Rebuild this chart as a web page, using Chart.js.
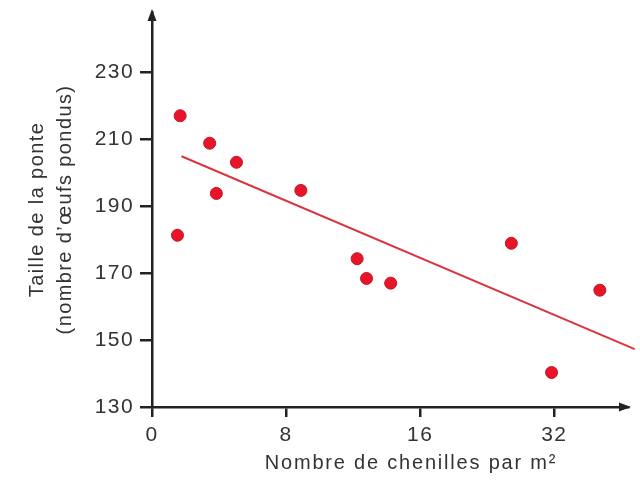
<!DOCTYPE html>
<html>
<head>
<meta charset="utf-8">
<script src="https://cdn.jsdelivr.net/npm/chart.js@4"></script>
<style>
  html, body { margin: 0; padding: 0; background: #fff; }
</style>
</head>
<body>
<canvas id="chart" width="640" height="485"></canvas>
<script>
// x positions are in tick steps: 0 -> "0", 1 -> "8", 2 -> "16", 3 -> "32"
const xTickPos = [0, 1, 2, 3];
const xTickLabels = ["0", "8", "16", "32"];
const yTickValues = [130, 150, 170, 190, 210, 230];

// caterpillars per m2 (axis steps) and clutch size
const chenilles = [0.19, 0.21, 0.43, 0.48, 0.63, 1.11, 1.53, 1.60, 1.78, 2.68, 2.98, 3.34];
const ponte = [181.3, 217.0, 208.8, 193.8, 203.1, 194.7, 174.3, 168.4, 167.0, 178.9, 140.3, 164.9];

// regression line end points
const trendX = [0.22, 3.60];
const trendY = [204.9, 147.3];

const textColor = "#333";
const axisColor = "#222";
const fontFamily = '"Liberation Sans", Arial, sans-serif';

// arrow heads on both axes + x axis title
const axisExtras = {
  id: "axisExtras",
  beforeDraw(chart) {
    // slightly wider lettering for ticks and titles
    chart.ctx.letterSpacing = "1.4px";
  },
  afterDraw(chart) {
    const ctx = chart.ctx;
    const area = chart.chartArea;
    ctx.save();
    ctx.fillStyle = axisColor;
    // top of y axis
    ctx.beginPath();
    ctx.moveTo(area.left, area.top - 3);
    ctx.lineTo(area.left - 4.5, area.top + 9);
    ctx.lineTo(area.left + 4.5, area.top + 9);
    ctx.closePath();
    ctx.fill();
    // end of x axis
    ctx.beginPath();
    ctx.moveTo(area.right + 3, area.bottom);
    ctx.lineTo(area.right - 9, area.bottom - 4.5);
    ctx.lineTo(area.right - 9, area.bottom + 4.5);
    ctx.closePath();
    ctx.fill();

    ctx.fillStyle = textColor;
    ctx.letterSpacing = "1.8px";
    ctx.font = "20px " + fontFamily;
    ctx.textAlign = "center";
    ctx.textBaseline = "alphabetic";
    ctx.fillText("Nombre de chenilles par m²", 411, 469);
    ctx.restore();
  }
};

let ctx = document.getElementById("chart").getContext("2d");
let scatterChart = new Chart(ctx, {
  type: "scatter",
  data: {
    datasets: [
      {
        type: "line",
        data: trendX.map((x, i) => ({ x: x, y: trendY[i] })),
        borderColor: "#d9343f",
        borderWidth: 2,
        pointRadius: 0,
        fill: false,
        clip: false,
      },
      {
        data: chenilles.map((x, i) => ({ x: x, y: ponte[i] })),
        backgroundColor: "#e8152a",
        borderColor: "#c8121f",
        borderWidth: 1,
        pointRadius: 6,
      },
    ],
  },
  options: {
    responsive: false,
    animation: false,
    layout: { padding: { left: 0, top: 12, right: 12, bottom: 0 } },
    plugins: {
      legend: { display: false },
      tooltip: { enabled: false },
    },
    scales: {
      x: {
        type: "linear",
        min: 0,
        max: 3.55,
        afterBuildTicks: (scale) => {
          scale.ticks = xTickPos.map((v) => ({ value: v }));
        },
        afterFit: (scale) => {
          scale.height = 78;
          scale.paddingLeft = 0;
          scale.paddingRight = 0;
        },
        ticks: {
          color: textColor,
          font: { family: fontFamily, size: 21 },
          padding: 6,
          maxRotation: 0,
          callback: (value, index) => xTickLabels[index],
        },
        grid: {
          drawOnChartArea: false,
          drawTicks: true,
          tickLength: 10,
          color: axisColor,
          lineWidth: 2.5,
        },
        border: { display: true, color: axisColor, width: 2.5 },
      },
      y: {
        min: 130,
        max: 248,
        afterBuildTicks: (scale) => {
          scale.ticks = yTickValues.map((v) => ({ value: v }));
        },
        afterFit: (scale) => {
          scale.width = 152;
          scale.paddingTop = 0;
          scale.paddingBottom = 0;
        },
        ticks: {
          color: textColor,
          font: { family: fontFamily, size: 21 },
          padding: 6,
        },
        grid: {
          drawOnChartArea: false,
          drawTicks: true,
          tickLength: 12,
          color: axisColor,
          lineWidth: 2.5,
        },
        border: { display: true, color: axisColor, width: 2.5 },
        title: {
          display: true,
          text: ["Taille de la ponte", "(nombre d’œufs pondus)"],
          color: textColor,
          font: { family: fontFamily, size: 20, lineHeight: 1.4 },
          padding: { top: 23, bottom: 0 },
        },
      },
    },
  },
  plugins: [axisExtras],
});
</script>
</body>
</html>
